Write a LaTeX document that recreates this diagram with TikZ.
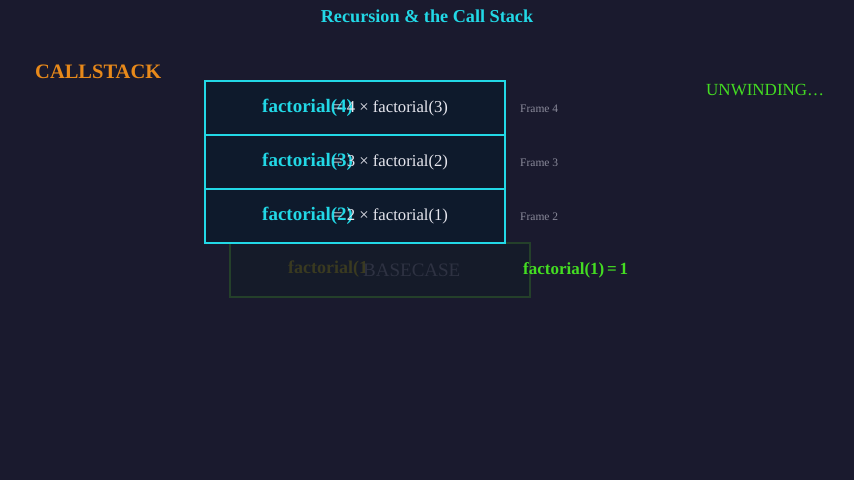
\documentclass[tikz,border=0pt]{standalone}
\usepackage{fontspec}
\setmainfont{Liberation Serif}
\definecolor{bg}{HTML}{1A1A2E}
\definecolor{boxfill}{HTML}{0E1A2C}
\definecolor{cyanc}{HTML}{22D8E6}
\definecolor{orangec}{HTML}{E8891A}
\definecolor{greenc}{HTML}{44DD22}
\definecolor{framegray}{HTML}{8A8A9A}
\definecolor{basefill}{HTML}{151B29}
\definecolor{baseedge}{HTML}{24402A}
\definecolor{baseolive}{HTML}{3A3A20}
\definecolor{basegray}{HTML}{2E3242}
\definecolor{whitec}{HTML}{E6E6EE}
\tikzset{
  framebox/.style={draw=cyanc, line width=1.6pt, fill=boxfill, minimum width=300pt, minimum height=54pt, inner sep=0pt},
  basebox/.style={draw=baseedge, line width=1.6pt, fill=basefill, minimum width=300pt, minimum height=54pt, inner sep=0pt},
  calltext/.style={text=cyanc, font=\bfseries\fontsize{19}{21}\selectfont, anchor=west, inner sep=0pt},
  exprtext/.style={text=whitec, font=\fontsize{16.7}{19}\selectfont, anchor=west, inner sep=0pt},
  framelabel/.style={text=framegray, font=\fontsize{11.5}{13}\selectfont, anchor=west, inner sep=0pt},
}
\begin{document}
\begin{tikzpicture}[x=1pt,y=-1pt]
\path[fill=bg] (0,0) rectangle (854,480);
\useasboundingbox (0,0) rectangle (854,480);
\node[text=cyanc, font=\bfseries\fontsize{18.2}{20}\selectfont, inner sep=0pt] (title) at (427,16) {Recursion \& the Call Stack};
\node[text=orangec, font=\bfseries\fontsize{20.5}{23}\selectfont, anchor=west, inner sep=0pt] (cs) at (35,72) {CALLSTACK};
\node[text=greenc, font=\fontsize{17}{19}\selectfont, anchor=west, inner sep=0pt] (unw) at (706,90) {UNWINDING…};
% base case (behind)
\node[basebox] (b1) at (380,270) {};
\node[text=baseolive, font=\bfseries\fontsize{18}{20}\selectfont, anchor=west, inner sep=0pt] (b1a) at (288,269) {factorial(1};
\node[text=basegray, font=\fontsize{19}{21}\selectfont, anchor=west, inner sep=0pt] (b1b) at (363,270) {BASECASE};
% frames
\node[framebox] (f4) at (355,108) {};
\node[framebox] (f3) at (355,162) {};
\node[framebox] (f2) at (355,216) {};
\node[calltext] (c4) at (262,108) {factorial(4)};
\node[exprtext] (e4) at (333,108) {= 4 × factorial(3)};
\node[calltext] (c3) at (262,162) {factorial(3)};
\node[exprtext] (e3) at (333,162) {= 3 × factorial(2)};
\node[calltext] (c2) at (262,216) {factorial(2)};
\node[exprtext] (e2) at (333,216) {= 2 × factorial(1)};
\node[framelabel] (l4) at (520,109) {Frame 4};
\node[framelabel] (l3) at (520,163) {Frame 3};
\node[framelabel] (l2) at (520,217) {Frame 2};
\node[text=greenc, font=\bfseries\fontsize{17}{19}\selectfont, anchor=west, inner sep=0pt] (res) at (523,270) {factorial(1)\,=\,1};
\end{tikzpicture}
\end{document}
